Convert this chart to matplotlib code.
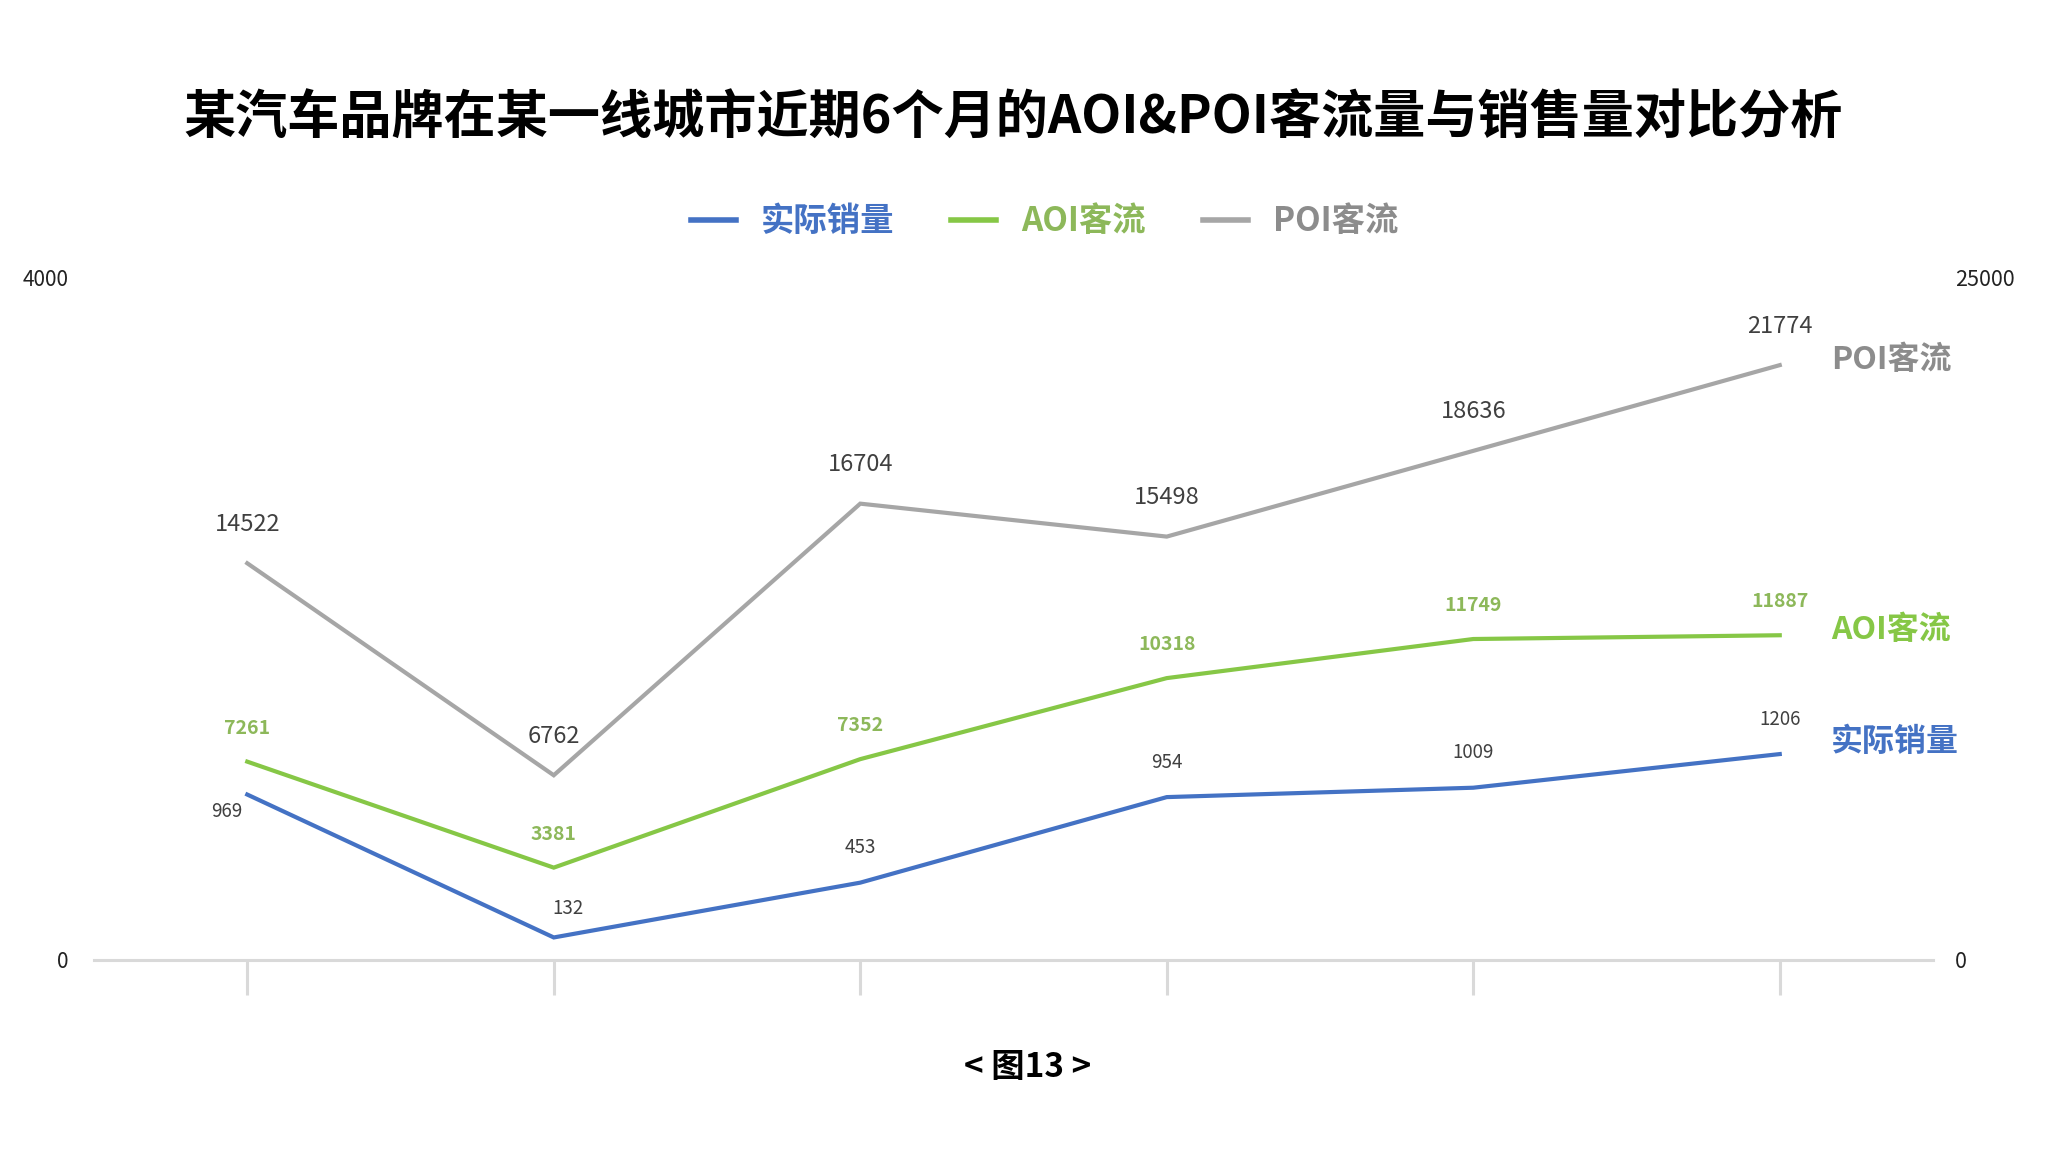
import numpy as np
import matplotlib
matplotlib.use("Agg")
import matplotlib.pyplot as plt
from matplotlib.lines import Line2D

plt.rcParams['font.family'] = ['Noto Sans CJK SC', 'DejaVu Sans']

# data (6 months)
series_names = ['实际销量', 'AOI客流', 'POI客流']
sales = [969, 132, 453, 954, 1009, 1206]
aoi = [7261, 3381, 7352, 10318, 11749, 11887]
poi = [14522, 6762, 16704, 15498, 18636, 21774]
left_ticks = [0, 4000]
right_ticks = [0, 25000]

title = '某汽车品牌在某一线城市近期6个月的AOI&POI客流量与销售量对比分析'
caption = '< 图13 >'

c_blue = '#4472C4'
c_green = '#86C746'
c_gray = '#A6A6A6'
c_axis = '#D9D9D9'

x = np.arange(len(sales))

fig = plt.figure(figsize=(20.48, 11.62), dpi=100)
ax = fig.add_axes([94/2048, 1-960/1162, (1933-94)/2048, (960-277)/1162])
ax2 = ax.twinx()

ax.plot(x, sales, color=c_blue, lw=3, solid_joinstyle='miter')
ax2.plot(x, aoi, color=c_green, lw=3, solid_joinstyle='miter')
ax2.plot(x, poi, color=c_gray, lw=3, solid_joinstyle='miter')

ax.set_xlim(-0.5, len(sales) - 0.5)
ax.set_ylim(left_ticks[0], left_ticks[-1])
ax2.set_ylim(right_ticks[0], right_ticks[-1])
ax.set_yticks(left_ticks)
ax2.set_yticks(right_ticks)
ax.set_xticks(x)
ax.set_xticklabels([])

for a in (ax, ax2):
    for s in a.spines.values():
        s.set_visible(False)
ax.spines['bottom'].set_visible(True)
ax.spines['bottom'].set_color(c_axis)
ax.spines['bottom'].set_linewidth(2.2)
ax.tick_params(axis='x', direction='out', length=25, width=2.2, color=c_axis)
ax.tick_params(axis='y', length=0, pad=18, labelsize=15, labelcolor='#222222')
ax2.tick_params(axis='y', length=0, pad=16, labelsize=15.5, labelcolor='#222222')

# data labels
sales_off = [(-15, -12), (10, 21), (0, 25), (0, 25), (0, 25), (0, 25)]
for xi, v, off in zip(x, sales, sales_off):
    ax.annotate(str(v), (xi, v), xytext=off, textcoords='offset points',
                ha='center', va='center', fontsize=13.5, color='#404040')
for xi, v in zip(x, aoi):
    ax2.annotate(str(v), (xi, v), xytext=(0, 24), textcoords='offset points',
                 ha='center', va='center', fontsize=14, fontweight='bold', color='#8DB85A')
for xi, v in zip(x, poi):
    ax2.annotate(str(v), (xi, v), xytext=(0, 28), textcoords='offset points',
                 ha='center', va='center', fontsize=17, color='#404040')

# series names at the right end
ax.annotate(series_names[0], (x[-1], sales[-1]), xytext=(37, 9), textcoords='offset points',
            ha='left', va='center', fontsize=23, fontweight='bold', color=c_blue)
ax2.annotate(series_names[1], (x[-1], aoi[-1]), xytext=(37, 4), textcoords='offset points',
             ha='left', va='center', fontsize=23, fontweight='bold', color=c_green)
ax2.annotate(series_names[2], (x[-1], poi[-1]), xytext=(37, 4), textcoords='offset points',
             ha='left', va='center', fontsize=23, fontweight='bold', color='#8C8C8C')

# legend
handles = [Line2D([], [], color=c, lw=4) for c in (c_blue, c_green, c_gray)]
leg = fig.legend(handles, series_names, loc='center', bbox_to_anchor=(0.51, 1-222/1162),
                 ncol=3, frameon=False, handlelength=1.35, handletextpad=0.75,
                 columnspacing=1.7, prop={'size': 24, 'weight': 'bold'})
for t, c in zip(leg.get_texts(), (c_blue, '#8DB85A', '#8C8C8C')):
    t.set_color(c)

fig.text(0.4946, 1-118/1162, title, ha='center', va='center', fontsize=37.5,
         fontweight='bold', color='black')
fig.text(0.502, 1-1068/1162, caption, ha='center', va='center', fontsize=24,
         fontweight='bold', color='black')

fig.savefig('out.png', dpi=100)
